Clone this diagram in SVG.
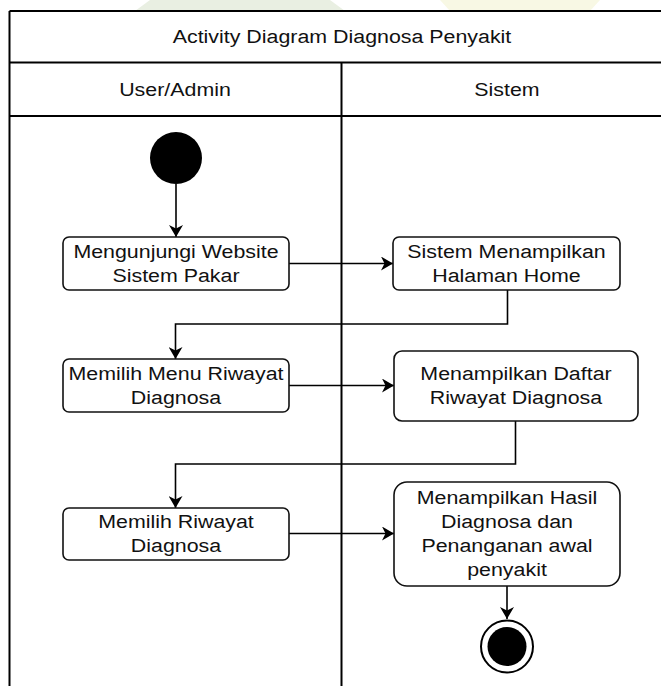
<svg xmlns="http://www.w3.org/2000/svg" width="661" height="686" viewBox="0 0 661 686">
  <defs>
    <marker id="arrow" viewBox="0 0 12 14" refX="12" refY="7" markerWidth="12" markerHeight="14" markerUnits="userSpaceOnUse" orient="auto">
      <path d="M0,0 L12,7 L0,14 L3.5,7 Z" fill="#000"/>
    </marker>
  </defs>
  <style>
    .frame { fill: none; stroke: #000; stroke-width: 2; }
    .node { fill: #fff; stroke: #111; stroke-width: 1.6; }
    .edge { fill: none; stroke: #000; stroke-width: 1.6; marker-end: url(#arrow); }
    .lbl { font-family: "Liberation Sans", Arial, sans-serif; font-size: 18.6px; fill: #111; text-anchor: middle; }
  </style>

  <!-- page background with faint watermark tones along the top edge -->
  <rect x="0" y="0" width="661" height="686" fill="#fff"/>
  <polygon points="150,0 330,0 345,11 135,11" fill="#e9efe2"/>
  <polygon points="440,0 600,0 590,11 450,11" fill="#f8f8e4"/>

  <!-- swimlane pool -->
  <g id="pool">
    <rect x="9.5" y="11" width="665" height="700" fill="#fff"/>
    <line class="frame" x1="9.5" y1="11" x2="674" y2="11"/>
    <line class="frame" x1="9.5" y1="11" x2="9.5" y2="686"/>
    <line class="frame" x1="674" y1="11" x2="674" y2="686"/>
    <line class="frame" x1="9.5" y1="62.5" x2="674" y2="62.5"/>
    <line class="frame" x1="9.5" y1="116" x2="674" y2="116"/>
    <line class="frame" x1="341.5" y1="62.5" x2="341.5" y2="686"/>
    <g transform="translate(342,0)"><text class="lbl" transform="scale(1.15,1)" x="0" y="43.5">Activity Diagram Diagnosa Penyakit</text></g>
    <g transform="translate(175,0)"><text class="lbl" transform="scale(1.15,1)" x="0" y="96">User/Admin</text></g>
    <g transform="translate(507,0)"><text class="lbl" transform="scale(1.15,1)" x="0" y="96">Sistem</text></g>
  </g>

  <!-- connectors -->
  <g id="edges">
    <path class="edge" d="M176,184 L176,237"/>
    <path class="edge" d="M289,263.5 L393,263.5"/>
    <path class="edge" d="M507.5,290 L507.5,324 L175.5,324 L175.5,359"/>
    <path class="edge" d="M289,385.5 L394,385.5"/>
    <path class="edge" d="M515.5,421 L515.5,464 L175.5,464 L175.5,508"/>
    <path class="edge" d="M289,533.5 L394,533.5"/>
    <path class="edge" d="M507,586 L507,619"/>
  </g>

  <!-- start -->
  <g id="start">
    <circle cx="176" cy="158" r="26" fill="#000"/>
  </g>

  <g id="n1">
    <rect class="node" x="63" y="237" width="226" height="53" rx="6"/>
    <g transform="translate(176,0)">
      <text class="lbl" transform="scale(1.15,1)" x="0" y="258.5">Mengunjungi Website</text>
      <text class="lbl" transform="scale(1.15,1)" x="0" y="282.5">Sistem Pakar</text>
    </g>
  </g>

  <g id="n2">
    <rect class="node" x="393" y="237" width="227" height="53" rx="6"/>
    <g transform="translate(506.5,0)">
      <text class="lbl" transform="scale(1.15,1)" x="0" y="258.5">Sistem Menampilkan</text>
      <text class="lbl" transform="scale(1.15,1)" x="0" y="282.5">Halaman Home</text>
    </g>
  </g>

  <g id="n3">
    <rect class="node" x="63" y="359" width="226" height="53" rx="6"/>
    <g transform="translate(176,0)">
      <text class="lbl" transform="scale(1.15,1)" x="0" y="380.5">Memilih Menu Riwayat</text>
      <text class="lbl" transform="scale(1.15,1)" x="0" y="404.5">Diagnosa</text>
    </g>
  </g>

  <g id="n4">
    <rect class="node" x="394" y="351" width="244" height="70" rx="8"/>
    <g transform="translate(516,0)">
      <text class="lbl" transform="scale(1.15,1)" x="0" y="380">Menampilkan Daftar</text>
      <text class="lbl" transform="scale(1.15,1)" x="0" y="404">Riwayat Diagnosa</text>
    </g>
  </g>

  <g id="n5">
    <rect class="node" x="63" y="508" width="226" height="52" rx="6"/>
    <g transform="translate(176,0)">
      <text class="lbl" transform="scale(1.15,1)" x="0" y="528.5">Memilih Riwayat</text>
      <text class="lbl" transform="scale(1.15,1)" x="0" y="552.5">Diagnosa</text>
    </g>
  </g>

  <g id="n6">
    <rect class="node" x="394" y="482" width="226" height="104" rx="13"/>
    <g transform="translate(507,0)">
      <text class="lbl" transform="scale(1.15,1)" x="0" y="504.5">Menampilkan Hasil</text>
      <text class="lbl" transform="scale(1.15,1)" x="0" y="528.5">Diagnosa dan</text>
      <text class="lbl" transform="scale(1.15,1)" x="0" y="552.5">Penanganan awal</text>
      <text class="lbl" transform="scale(1.15,1)" x="0" y="576.5">penyakit</text>
    </g>
  </g>

  <!-- final -->
  <g id="end">
    <circle cx="507" cy="646.5" r="26" fill="#fff" stroke="#000" stroke-width="2"/>
    <circle cx="507" cy="646.5" r="19.5" fill="#000"/>
  </g>
</svg>
